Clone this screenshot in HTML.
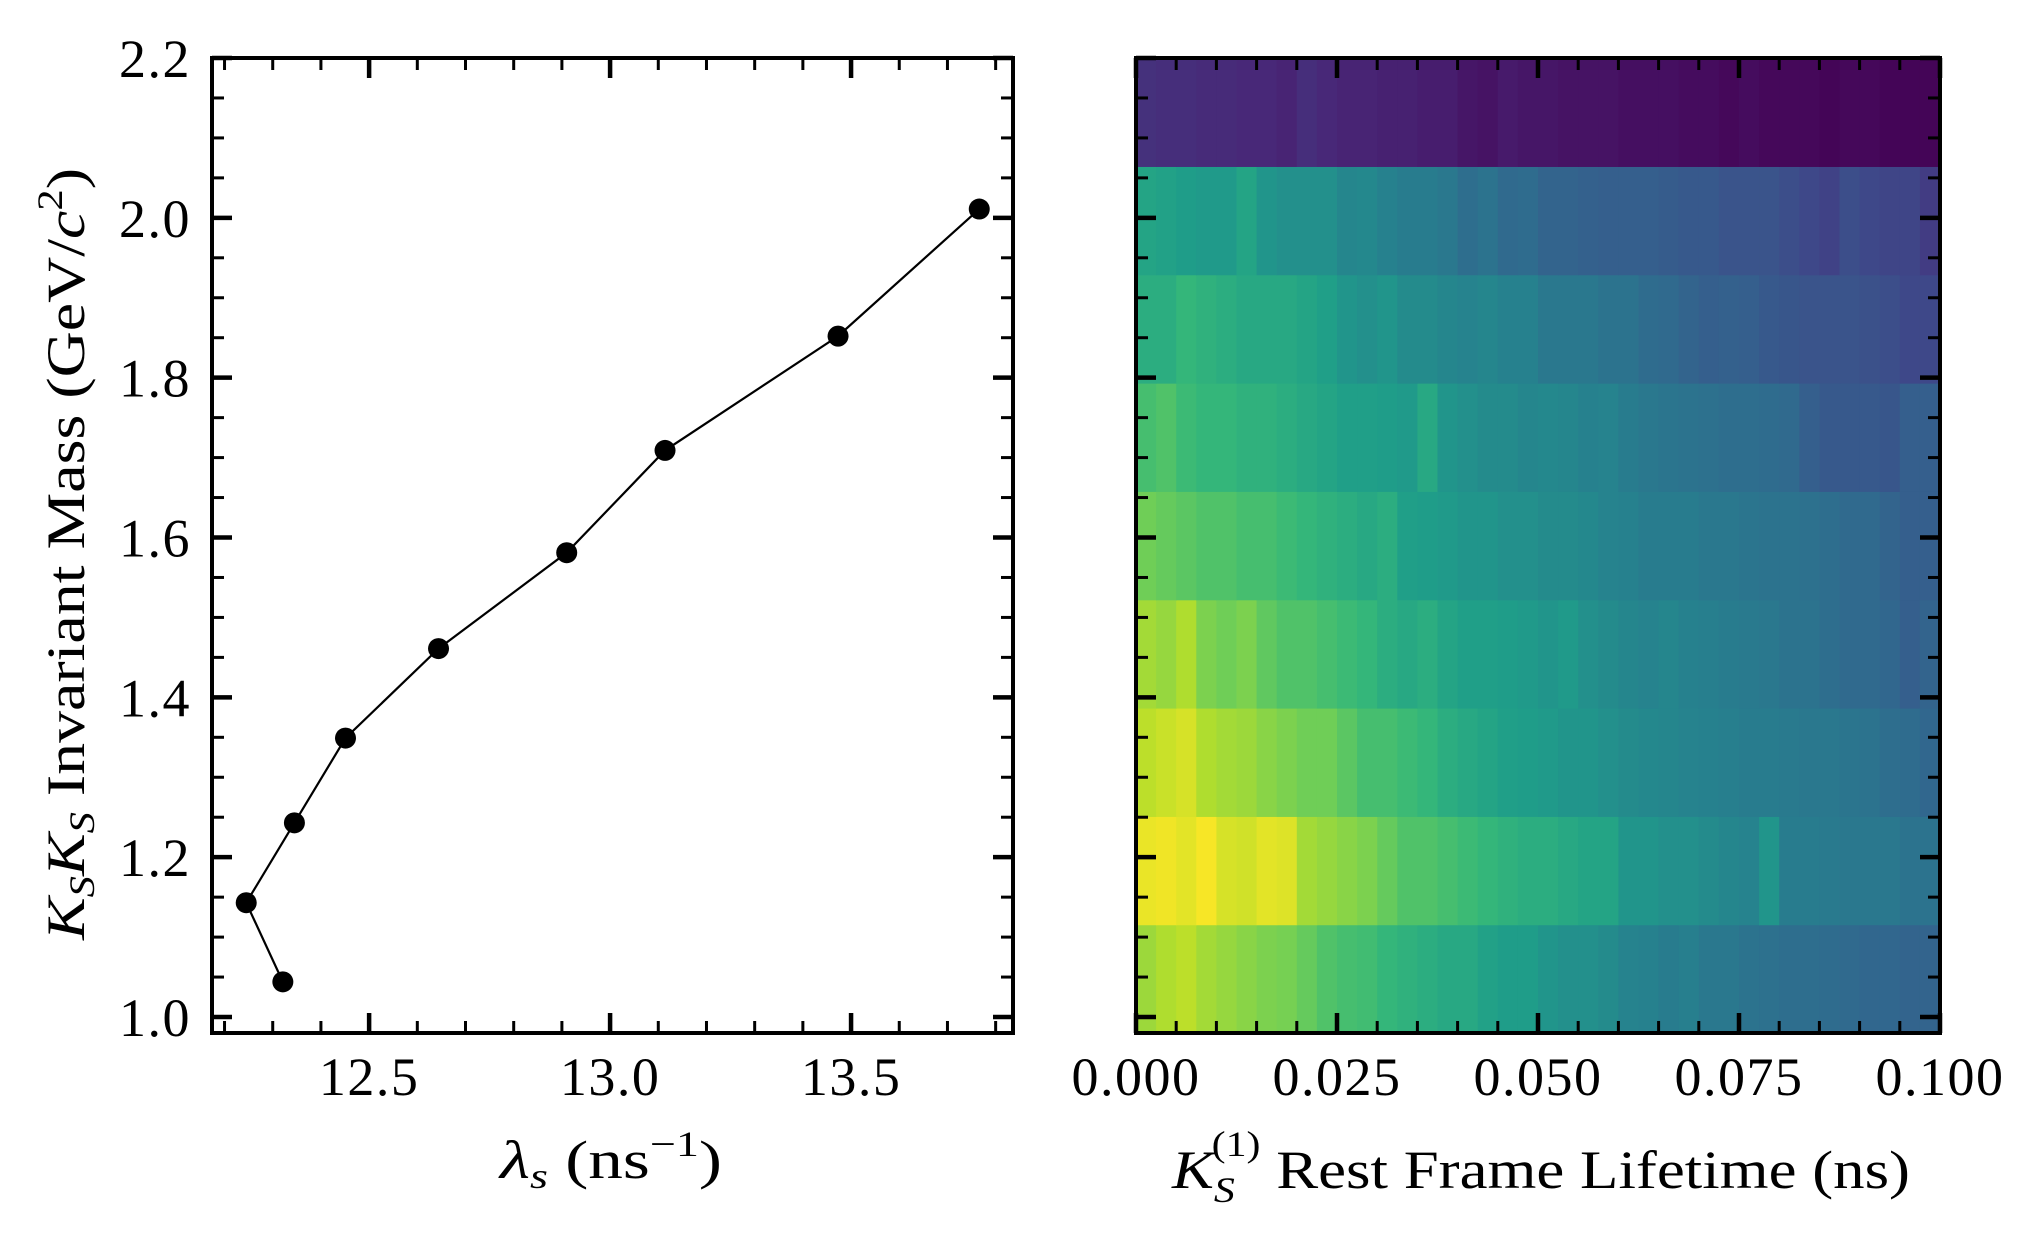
<!DOCTYPE html>
<html><head><meta charset="utf-8">
<style>
html,body{margin:0;padding:0;background:#fff;}
svg{display:block;}
text{font-family:"Liberation Serif","DejaVu Serif",serif;fill:#000;}
</style></head>
<body>
<svg id="fig" width="2039" height="1239" viewBox="0 0 2039 1239" xmlns="http://www.w3.org/2000/svg">
<rect width="2039" height="1239" fill="#fff"/>
<g id="left"></g>
<g id="right"></g>
<text x="500" y="1178" font-size="54" textLength="222" lengthAdjust="spacingAndGlyphs"><tspan font-style="italic">λ</tspan><tspan font-style="italic" font-size="36" dy="10">s</tspan><tspan dy="-10"> (ns</tspan><tspan font-size="36" dy="-22">−1</tspan><tspan dy="22">)</tspan></text>
<text x="1172" y="1188" font-size="54" textLength="738" lengthAdjust="spacingAndGlyphs"><tspan font-style="italic">K</tspan><tspan font-style="italic" font-size="36" dy="14">S</tspan><tspan font-size="36" dx="-20" dy="-46">(1)</tspan><tspan dy="32"> Rest Frame Lifetime (ns)</tspan></text>
<text transform="translate(84,554) rotate(-90)" font-size="54" x="-386" textLength="772" lengthAdjust="spacingAndGlyphs"><tspan font-style="italic">K</tspan><tspan font-style="italic" font-size="36" dy="10">S</tspan><tspan font-style="italic" dy="-10">K</tspan><tspan font-style="italic" font-size="36" dy="10">S</tspan><tspan dy="-10"> Invariant Mass (GeV/</tspan><tspan font-style="italic">c</tspan><tspan font-size="36" dy="-22">2</tspan><tspan dy="22">)</tspan></text>
</svg>
<script>
// ---- left chart data ----
const lambdaValues = [12.321, 12.245, 12.345, 12.451, 12.644, 12.910, 13.114, 13.473, 13.766];
const massValues = [1.044, 1.143, 1.243, 1.349, 1.461, 1.581, 1.709, 1.852, 2.011];
const leftXTicks = [12.5, 13.0, 13.5];
const leftXTickLabels = ["12.5", "13.0", "13.5"];
const yTicks = [1.0, 1.2, 1.4, 1.6, 1.8, 2.0, 2.2];
const yTickLabels = ["1.0", "1.2", "1.4", "1.6", "1.8", "2.0", "2.2"];
const rightXTicks = [0, 0.025, 0.05, 0.075, 0.1];
const rightXTickLabels = ["0.000", "0.025", "0.050", "0.075", "0.100"];
// ---- heatmap data (viridis fraction per cell, rows bottom->top, 40 lifetime bins) ----
const massBinEdges = [0.98, 1.1156, 1.2511, 1.3867, 1.5222, 1.6578, 1.7933, 1.9289, 2.0644, 2.2];
const row1 = [0.85,0.88,0.90,0.86,0.84,0.82,0.80,0.79,0.76,0.72,0.70,0.69,0.66,0.64,0.62,0.60,0.60,0.57,0.55,0.55,0.52,0.50,0.50,0.48,0.45,0.44,0.42,0.43,0.40,0.40,0.38,0.37,0.36,0.36,0.35,0.34,0.33,0.33,0.32,0.32];
const row2 = [0.97,0.98,0.96,0.99,0.94,0.93,0.96,0.95,0.86,0.84,0.82,0.80,0.76,0.72,0.72,0.70,0.68,0.66,0.64,0.62,0.62,0.60,0.58,0.58,0.52,0.52,0.50,0.50,0.48,0.46,0.45,0.52,0.42,0.42,0.41,0.40,0.40,0.40,0.38,0.38];
const row3 = [0.90,0.92,0.94,0.88,0.86,0.85,0.82,0.80,0.78,0.78,0.74,0.70,0.70,0.68,0.66,0.62,0.60,0.58,0.56,0.55,0.54,0.52,0.52,0.50,0.48,0.47,0.46,0.45,0.44,0.43,0.42,0.42,0.41,0.40,0.40,0.39,0.38,0.36,0.35,0.33];
const row4 = [0.86,0.84,0.88,0.80,0.78,0.80,0.75,0.72,0.72,0.70,0.68,0.66,0.62,0.60,0.62,0.58,0.56,0.56,0.55,0.54,0.52,0.54,0.50,0.48,0.46,0.45,0.46,0.44,0.43,0.42,0.41,0.40,0.38,0.38,0.36,0.34,0.34,0.33,0.30,0.32];
const row5 = [0.78,0.76,0.74,0.72,0.72,0.70,0.70,0.68,0.66,0.64,0.62,0.60,0.62,0.56,0.55,0.54,0.52,0.52,0.50,0.50,0.48,0.48,0.47,0.45,0.44,0.42,0.42,0.42,0.40,0.40,0.39,0.38,0.38,0.37,0.36,0.34,0.34,0.32,0.30,0.30];
const row6 = [0.70,0.72,0.68,0.66,0.66,0.64,0.64,0.62,0.60,0.58,0.56,0.56,0.55,0.54,0.60,0.52,0.50,0.48,0.48,0.46,0.47,0.46,0.44,0.45,0.42,0.40,0.39,0.38,0.37,0.36,0.36,0.35,0.34,0.30,0.28,0.28,0.28,0.27,0.30,0.30];
const row7 = [0.62,0.62,0.66,0.64,0.62,0.60,0.60,0.60,0.58,0.56,0.52,0.50,0.52,0.48,0.48,0.46,0.45,0.46,0.44,0.44,0.40,0.40,0.40,0.38,0.38,0.35,0.34,0.32,0.30,0.31,0.30,0.28,0.27,0.26,0.26,0.26,0.25,0.24,0.22,0.22];
const row8 = [0.58,0.57,0.55,0.54,0.54,0.58,0.52,0.50,0.50,0.50,0.46,0.47,0.44,0.42,0.42,0.40,0.36,0.38,0.34,0.35,0.32,0.32,0.31,0.30,0.30,0.30,0.29,0.28,0.28,0.26,0.26,0.26,0.24,0.22,0.20,0.24,0.22,0.21,0.21,0.18];
const row9 = [0.14,0.13,0.13,0.12,0.12,0.11,0.11,0.10,0.13,0.11,0.10,0.10,0.09,0.09,0.08,0.08,0.06,0.05,0.07,0.06,0.06,0.05,0.05,0.05,0.04,0.04,0.04,0.03,0.03,0.02,0.03,0.02,0.02,0.02,0.01,0.02,0.02,0.01,0.01,0.01];
const heatRows = [row1,row2,row3,row4,row5,row6,row7,row8,row9];
const lifetimeMax = 0.1;

const NS = "http://www.w3.org/2000/svg";
function mk(tag, attrs, parent){ const e=document.createElementNS(NS,tag); for(const k in attrs) e.setAttribute(k,attrs[k]); parent.appendChild(e); return e; }

const Y0 = 58, Y1 = 1033, yMin = 0.98, yMax = 2.2;
const yS = v => Y1 - (v - yMin) / (yMax - yMin) * (Y1 - Y0);
const LX0 = 212, LX1 = 1013, lxMin = 12.174, lxMax = 13.836;
const lxS = v => LX0 + (v - lxMin) / (lxMax - lxMin) * (LX1 - LX0);
const RX0 = 1136, RX1 = 1940;
const rxS = v => RX0 + v / lifetimeMax * (RX1 - RX0);

const VIR = [[68,1,84],[72,40,120],[62,73,137],[49,104,142],[38,130,142],[31,158,137],[53,183,121],[110,206,88],[181,222,43],[253,231,37]];
function viridis(t){ t=Math.max(0,Math.min(1,t)); const f=t*(VIR.length-1); const i=Math.min(VIR.length-2,Math.floor(f)); const r=f-i;
  const c=VIR[i].map((v,k)=>Math.round(v+(VIR[i+1][k]-v)*r)); return `rgb(${c[0]},${c[1]},${c[2]})`; }

const L = document.getElementById('left'), R = document.getElementById('right');

const nCols = row1.length;
heatRows.forEach((row, ri) => {
  row.forEach((v, ci) => {
    const x0 = rxS(ci * lifetimeMax / nCols), x1 = rxS((ci + 1) * lifetimeMax / nCols);
    const ya = yS(massBinEdges[ri + 1]), yb = yS(massBinEdges[ri]);
    const r = mk('rect', {x:x0, y:ya, width:x1-x0+0.6, height:yb-ya+0.6, fill:viridis(v)}, R);
    
    
  });
});

function tickLine(parent, x1,y1,x2,y2,w,name){ const t=mk('line',{x1,y1,x2,y2,stroke:'#000','stroke-width':w},parent);
  
   }

function yTicksFor(parent, X0, X1){
  for(let k=0;k<=24;k++){ const v=1.0+k*0.05; if(v>2.2001) break; const y=yS(v); const major = k%4===0; const len=major?20:12, w=major?4.5:3;
    tickLine(parent, X0, y, X0+len, y, w, major?'y-major-tick':'y-minor-tick');
    tickLine(parent, X1, y, X1-len, y, w, major?'y-major-tick':'y-minor-tick'); }
}
yTicksFor(L, LX0, LX1); yTicksFor(R, RX0, RX1);

for(let k=0;k<=17;k++){ const v=12.2+k*0.1; const x=lxS(v); if(x<LX0||x>LX1) continue; const major=Math.abs((v*2)-Math.round(v*2))<1e-6; const len=major?20:12,w=major?4.5:3;
  tickLine(L,x,Y1,x,Y1-len,w,major?'x-major-tick':'x-minor-tick'); tickLine(L,x,Y0,x,Y0+len,w,major?'x-major-tick':'x-minor-tick'); }
for(let k=0;k<=20;k++){ const v=k*0.005; const x=rxS(v); const major=k%5===0; const len=major?20:12,w=major?4.5:3;
  tickLine(R,x,Y1,x,Y1-len,w,major?'x-major-tick':'x-minor-tick'); tickLine(R,x,Y0,x,Y0+len,w,major?'x-major-tick':'x-minor-tick'); }

yTicks.forEach((v,i)=>{ const t=mk('text',{x:191,y:yS(v)+19,'font-size':54,'text-anchor':'end','letter-spacing':1.5},L); t.textContent=yTickLabels[i];
  
   });
leftXTicks.forEach((v,i)=>{ const t=mk('text',{x:lxS(v),y:1095,'font-size':54,'text-anchor':'middle','letter-spacing':1.5},L); t.textContent=leftXTickLabels[i];
  
   });
rightXTicks.forEach((v,i)=>{ const t=mk('text',{x:rxS(v),y:1095,'font-size':54,'text-anchor':'middle','letter-spacing':1.5},R); t.textContent=rightXTickLabels[i];
  
   });

const pts = lambdaValues.map((v,i)=>lxS(v)+','+yS(massValues[i])).join(' ');
const pl = mk('polyline',{points:pts,fill:'none',stroke:'#000','stroke-width':2.2},L);


lambdaValues.forEach((v,i)=>{ const c=mk('circle',{cx:lxS(v),cy:yS(massValues[i]),r:10.5,fill:'#000'},L);
  
   });

const f1=mk('rect',{x:LX0,y:Y0,width:LX1-LX0,height:Y1-Y0,fill:'none',stroke:'#000','stroke-width':4},L);


const f2=mk('rect',{x:RX0,y:Y0,width:RX1-RX0,height:Y1-Y0,fill:'none',stroke:'#000','stroke-width':4},R);


</script>
</body></html>
